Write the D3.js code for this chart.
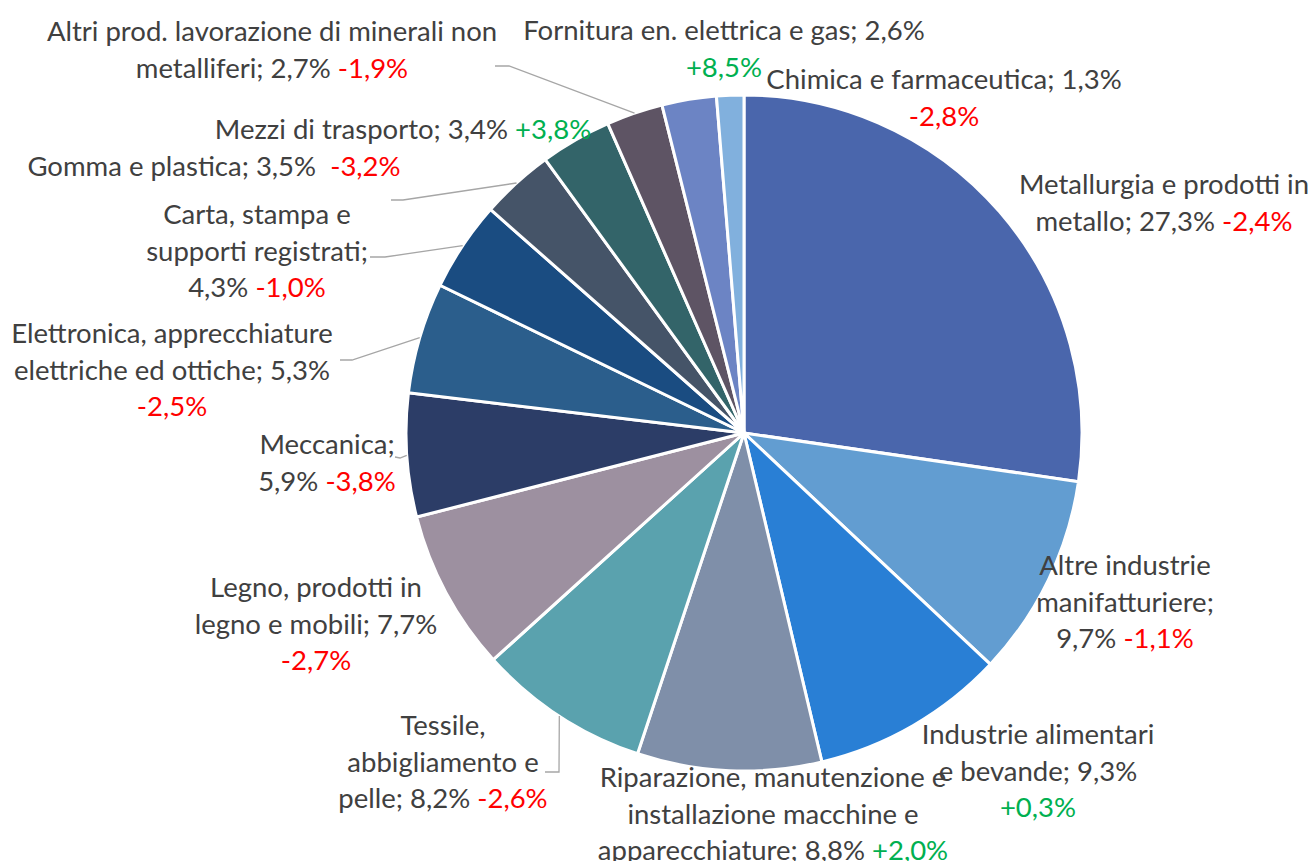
<!DOCTYPE html>
<html>
<head>
<meta charset="utf-8">
<script src="https://cdn.jsdelivr.net/npm/d3@7"></script>
<style>
  html, body { margin: 0; padding: 0; background: #fff; }
  svg { display: block; }
  .lbl { font-family: Lato, "Open Sans", sans-serif; font-size: 27.5px; fill: #404040; }
  .leader { fill: none; stroke: #a6a6a6; stroke-width: 1.3; }
</style>
</head>
<body>
<div id="chart"></div>
<script>
// data, clockwise from 12 o'clock
var categories = [
  "Metallurgia e prodotti in metallo",
  "Altre industrie manifatturiere",
  "Industrie alimentari e bevande",
  "Riparazione, manutenzione e installazione macchine e apparecchiature",
  "Tessile, abbigliamento e pelle",
  "Legno, prodotti in legno e mobili",
  "Meccanica",
  "Elettronica, apprecchiature elettriche ed ottiche",
  "Carta, stampa e supporti registrati",
  "Gomma e plastica",
  "Mezzi di trasporto",
  "Altri prod. lavorazione di minerali non metalliferi",
  "Fornitura en. elettrica e gas",
  "Chimica e farmaceutica"
];
var shares  = [27.3, 9.7, 9.3, 8.8, 8.2, 7.7, 5.9, 5.3, 4.3, 3.5, 3.4, 2.7, 2.6, 1.3];
var changes = [-2.4, -1.1, 0.3, 2.0, -2.6, -2.7, -3.8, -2.5, -1.0, -3.2, 3.8, -1.9, 8.5, -2.8];

var colors = ["#4a66ac", "#629dd1", "#297fd5", "#7f8fa9", "#5aa2ae", "#9d90a0",
              "#2c3d67", "#2b5e8c", "#1a4c81", "#455468", "#336469", "#5e5464",
              "#6c84c4", "#81b0dd"];

// label layout: words per line, centre x, first line centre y, optional leader (start, elbow)
var labelLayout = [
  { words: [4, 3],    x: 1164, y: 183 },
  { words: [2, 1, 2], x: 1125, y: 564 },
  { words: [2, 3, 1], x: 1038, y: 733 },
  { words: [3, 3, 3], x: 773,  y: 776 },
  { words: [1, 2, 3], x: 443,  y: 724, leader: [[545, 772], [559, 772]] },
  { words: [3, 4, 1], x: 316,  y: 586 },
  { words: [1, 2],    x: 327,  y: 443, leader: [[395, 457], [400, 458]] },
  { words: [2, 4, 1], x: 172,  y: 332, leader: [[340, 360], [352, 360]] },
  { words: [3, 2, 2], x: 257,  y: 213, leader: [[370, 257], [385, 257]] },
  { words: [5],       x: 214,  y: 165, leader: [[391, 200], [403, 200]] },
  { words: [5],       x: 403,  y: 128 },
  { words: [6, 3],    x: 272,  y: 30,  leader: [[495, 66], [509, 66]] },
  { words: [6, 1],    x: 724,  y: 29 },
  { words: [4, 1],    x: 944,  y: 78 }
];

var width = 1314, height = 861;
var cx = 744, cy = 433, radius = 338, lineH = 36.5;

var fmt = function(v) { return v.toFixed(1).replace(".", ","); };

var svg = d3.select("#chart").append("svg")
    .attr("width", width)
    .attr("height", height);

var pie = d3.pie().sort(null).value(function(d) { return d; });
var arcs = pie(shares);

var arc = d3.arc().innerRadius(0).outerRadius(radius);
var edge = d3.arc().innerRadius(radius).outerRadius(radius);

var g = svg.append("g").attr("transform", "translate(" + cx + "," + cy + ")");

g.selectAll("path.slice")
    .data(arcs)
    .enter().append("path")
    .attr("class", "slice")
    .attr("d", arc)
    .attr("fill", function(d, i) { return colors[i]; })
    .attr("stroke", "#fff")
    .attr("stroke-width", 3)
    .attr("stroke-linejoin", "round");

// leader lines
arcs.forEach(function(d, i) {
  var lay = labelLayout[i];
  if (!lay.leader) return;
  var p = edge.centroid(d);
  var pts = [lay.leader[0], lay.leader[1], [p[0] + cx, p[1] + cy]];
  svg.append("path")
      .attr("class", "leader")
      .attr("d", d3.line()(pts));
});

// labels
categories.forEach(function(name, i) {
  var lay = labelLayout[i];
  var chg = (changes[i] > 0 ? "+" : "-") + fmt(Math.abs(changes[i])) + "%";
  var sep = i === 9 ? "  " : " ";
  var words = (name + "; " + fmt(shares[i]) + "%").split(" ");
  words.push(chg);
  var t = svg.append("text")
      .attr("class", "lbl")
      .attr("text-anchor", "middle")
      .attr("dominant-baseline", "central")
      .attr("xml:space", "preserve");
  var k = 0;
  lay.words.forEach(function(n, li) {
    var lineWords = words.slice(k, k + n);
    k += n;
    var tl = t.append("tspan")
        .attr("x", lay.x)
        .attr("y", lay.y + li * lineH);
    lineWords.forEach(function(w, wi) {
      var last = (k - n + wi) === words.length - 1;
      var s = (wi > 0 ? (last ? sep : " ") : "") + w;
      if (last) {
        tl.append("tspan").attr("fill", changes[i] > 0 ? "#00b050" : "#ff0000").text(s);
      } else {
        tl.append("tspan").text(s);
      }
    });
  });
});
</script>
</body>
</html>
